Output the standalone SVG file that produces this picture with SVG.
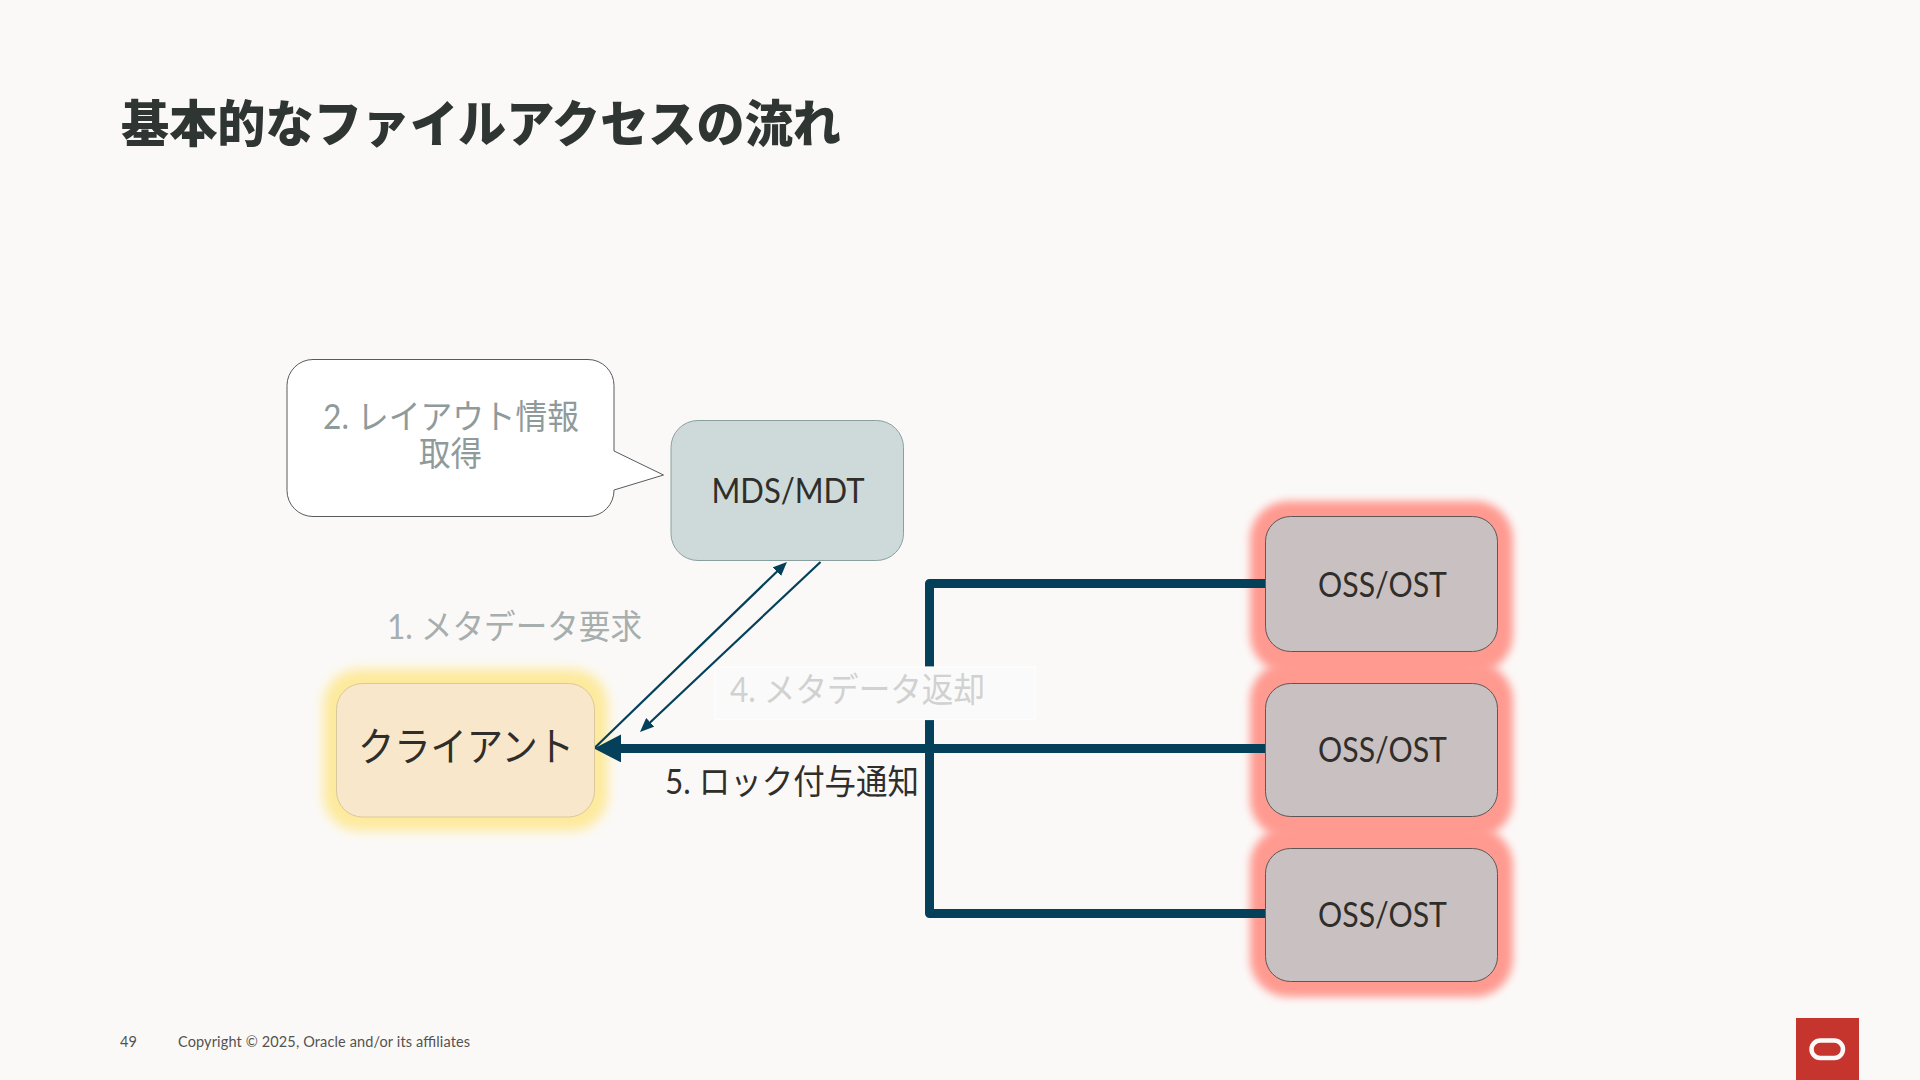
<svg xmlns="http://www.w3.org/2000/svg" width="1920" height="1080" viewBox="0 0 1920 1080">
<defs>
<style>
text{font-family:"Lato","Noto Sans CJK JP","Noto Sans",sans-serif;fill:#302e2b;font-size:34px}
.oss{fill:#c9c1c1;stroke:#5f5656;stroke-width:1}
.g1{fill:#ff9a90;filter:url(#blurR)}
.thin{fill:none;stroke:#04405a;stroke-width:2.2}
.thick{fill:none;stroke:#04405a;stroke-width:9;stroke-linejoin:round}
.foot{font-size:14.5px;fill:#55524f}
</style>
<filter id="blurR" x="-20%" y="-20%" width="140%" height="140%"><feGaussianBlur stdDeviation="4.5"/></filter>
<filter id="blurY" x="-20%" y="-20%" width="140%" height="140%"><feGaussianBlur stdDeviation="6"/></filter>
<marker id="headThin" markerUnits="userSpaceOnUse" markerWidth="15" markerHeight="12" viewBox="0 0 15 12" refX="1" refY="6" orient="auto"><polygon points="0,0 14,6 0,12" fill="#04405a"/></marker>
<marker id="headThick" markerUnits="userSpaceOnUse" markerWidth="28" markerHeight="28" viewBox="0 0 28 28" refX="1" refY="14" orient="auto"><polygon points="0,0 27,14 0,28" fill="#04405a"/></marker>
</defs>
<rect width="1920" height="1080" fill="#fbf9f8"/>

<g id="title"><text x="121" y="142" font-weight="900" style="font-size:50px;fill:#2f3533" textLength="720" lengthAdjust="spacingAndGlyphs">基本的なファイルアクセスの流れ</text></g>

<g id="glow-client"><rect x="323" y="669" width="285" height="162" rx="36" fill="#fdea9c" filter="url(#blurY)"/></g>
<g id="glow-oss">
<rect class="g1" x="1250" y="501" width="263" height="172" rx="38"/>
<rect class="g1" x="1250" y="662" width="263" height="176" rx="38"/>
<rect class="g1" x="1250" y="827" width="263" height="170" rx="38"/>
</g>

<g id="connectors">
<path class="thin" d="M594.5 748L777.6 571" marker-end="url(#headThin)"/>
<path class="thin" d="M820.5 562L649.5 723" marker-end="url(#headThin)"/>
<path class="thick" d="M1266 583.5H929.5V913.5H1266"/>
<path class="thick" d="M1266 748.4H620" marker-end="url(#headThick)"/>
</g>

<g id="callout">
<path d="M313 359.5H588A26 26 0 0 1 614 385.5V451L663.5 475L614 490A26 26 0 0 1 588 516.5H313A26 26 0 0 1 287 490.5V385.5A26 26 0 0 1 313 359.5Z" fill="#fff" stroke="#5a5a5a" stroke-width="1"/>
<text x="323" y="429" style="fill:#8f9a9b" textLength="256" lengthAdjust="spacingAndGlyphs">2. レイアウト情報</text>
<text x="419" y="466" style="fill:#8f9a9b" textLength="63" lengthAdjust="spacingAndGlyphs">取得</text>
</g>

<g id="mds">
<rect x="671" y="420.5" width="232.5" height="140" rx="27" fill="#cddad9" stroke="#8aa0a0" stroke-width="1"/>
<text x="711.5" y="503" textLength="153" lengthAdjust="spacingAndGlyphs">MDS/MDT</text>
</g>

<g id="client">
<rect x="336.5" y="683.5" width="258" height="133.5" rx="26" fill="#f8e7ca" stroke="#d9c89e" stroke-width="1"/>
<text x="358" y="761" style="font-size:40px" textLength="216" lengthAdjust="spacingAndGlyphs">クライアント</text>
</g>

<g id="oss1">
<rect class="oss" x="1265.5" y="516.5" width="232" height="135" rx="25"/>
<text x="1318" y="596.5" textLength="129" lengthAdjust="spacingAndGlyphs">OSS/OST</text>
</g>
<g id="oss2">
<rect class="oss" x="1265.5" y="683.5" width="232" height="133" rx="25"/>
<text x="1318" y="761.5" textLength="129" lengthAdjust="spacingAndGlyphs">OSS/OST</text>
</g>
<g id="oss3">
<rect class="oss" x="1265.5" y="848.5" width="232" height="133" rx="25"/>
<text x="1318" y="926.5" textLength="129" lengthAdjust="spacingAndGlyphs">OSS/OST</text>
</g>

<g id="label1"><text x="387" y="639" style="fill:#a6aeae" textLength="255" lengthAdjust="spacingAndGlyphs">1. メタデータ要求</text></g>
<g id="label4">
<rect x="715" y="667" width="320" height="52.5" fill="#fbfafa" stroke="#fefefe" stroke-width="1.2"/>
<text x="730" y="702" style="fill:#d0d1d0" textLength="255" lengthAdjust="spacingAndGlyphs">4. メタデータ返却</text>
</g>
<g id="label5"><text x="665" y="794" textLength="254" lengthAdjust="spacingAndGlyphs">5. ロック付与通知</text></g>

<g id="footer">
<text class="foot" x="120" y="1047">49</text>
<text class="foot" x="178" y="1047" textLength="292">Copyright © 2025, Oracle and/or its affiliates</text>
<rect x="1796" y="1018" width="63" height="62" fill="#c5342d"/>
<rect x="1811.5" y="1040.5" width="31.5" height="17.5" rx="8.7" fill="none" stroke="#fbf9f8" stroke-width="4.5"/>
</g>
</svg>
